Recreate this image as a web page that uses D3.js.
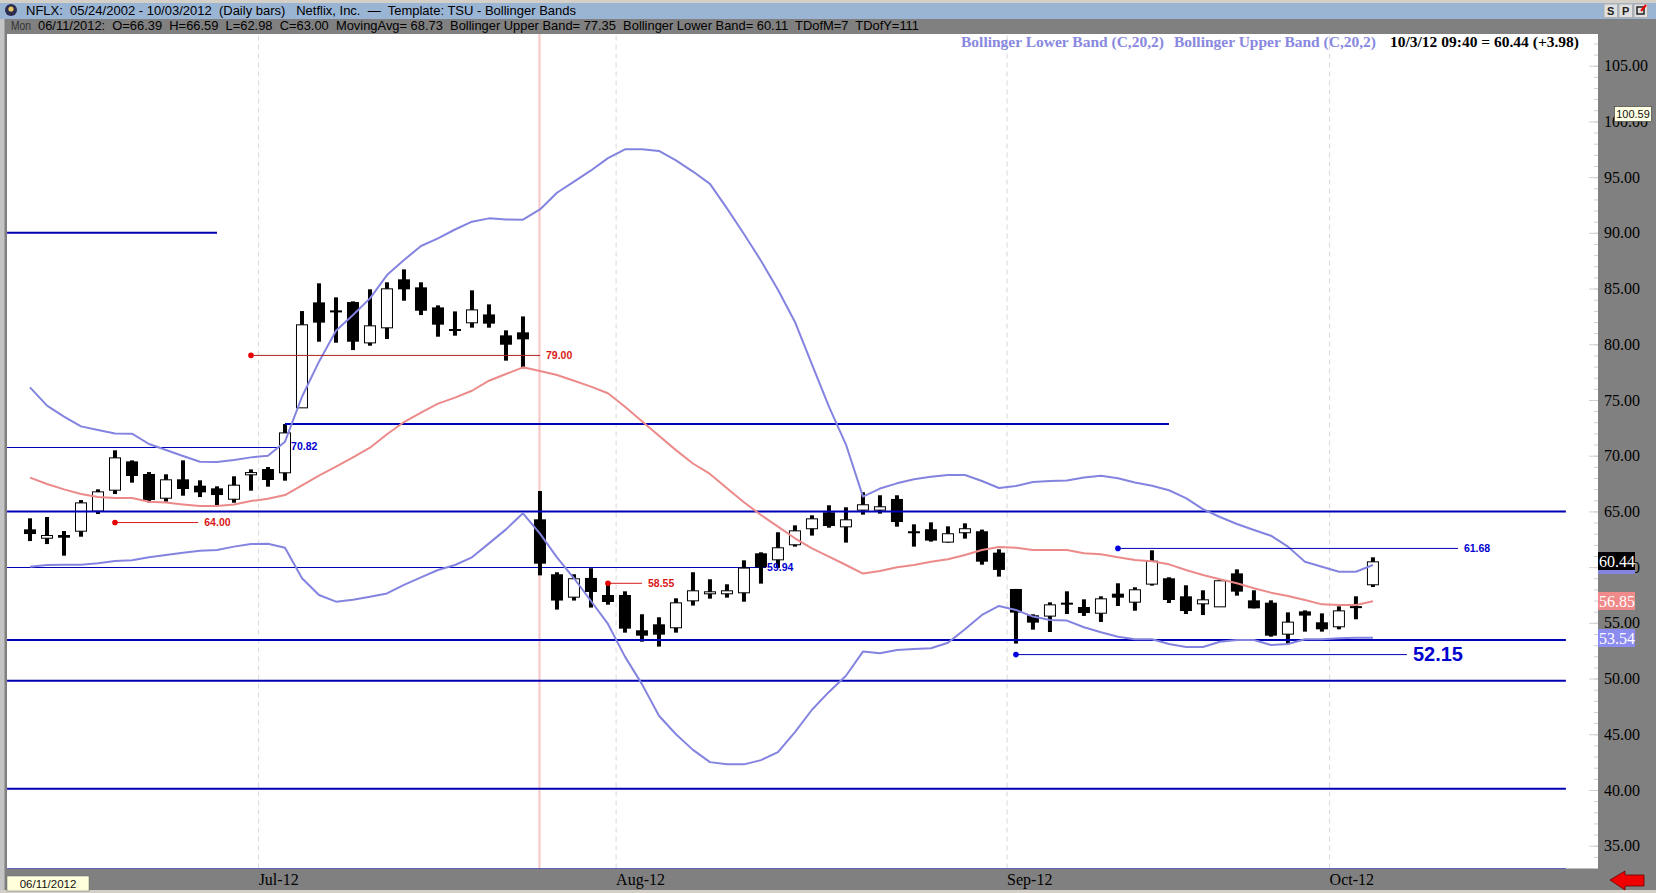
<!DOCTYPE html>
<html><head><meta charset="utf-8"><title>NFLX Bollinger Bands</title>
<script src="https://cdn.jsdelivr.net/npm/d3@7/dist/d3.min.js"></script>
<style>html,body{margin:0;padding:0;background:#808080;overflow:hidden}svg{display:block}</style>
</head><body><svg id="c" width="1656" height="893"></svg>
<script>
const opens=[63.39,62.64,62.88,63.27,65.07,66.95,69.49,68.36,66.23,67.88,67.31,67.07,66.14,68.33,68.80,68.51,74.34,83.76,83.04,83.79,80.17,81.52,85.83,85.11,83.31,81.37,81.97,82.68,80.80,81.07,64.29,59.36,57.35,59.03,57.5,57.5,54.33,54.87,54.6,57.02,57.65,57.65,57.74,61.24,60.7,62.05,63.49,64.92,63.66,65.16,65.16,66.12,63.22,63.4,62.29,63.13,63.22,61.3,58.04,55.68,55.65,56.81,56.42,55.91,57.62,56.9,58.52,59.0,57.38,56.75,56.48,59.44,57.02,56.81,54.03,56.03,55.05,54.69,56.5,58.46];
const closes=[62.97,62.88,62.64,65.81,66.80,69.85,68.18,66.02,67.88,67.01,66.71,66.47,67.40,68.53,67.82,72.09,81.79,81.94,83.04,80.23,81.70,85.02,84.93,83.01,81.76,81.19,83.13,81.85,79.96,80.44,60.31,57.0,59.0,57.77,56.87,54.48,53.85,53.94,56.84,57.92,57.83,57.92,59.96,59.99,61.78,63.3,64.38,63.69,64.29,65.64,65.46,64.05,63.07,62.38,63.04,63.49,60.49,59.75,55.92,55.02,56.66,56.63,55.88,57.2,57.26,58.01,60.58,57.05,56.06,57.11,58.82,57.8,56.3,53.85,55.11,55.65,54.42,56.12,56.45,60.52];
const highs=[64.38,64.50,63.24,66.02,66.98,70.48,69.58,68.53,68.33,69.58,67.79,67.25,68.15,68.77,68.98,72.84,82.98,85.47,84.21,83.85,84.93,85.56,86.72,85.56,83.49,82.95,84.84,83.58,81.25,82.50,66.83,59.54,59.36,59.9,58.58,57.83,55.77,55.5,57.2,59.54,58.91,58.46,60.61,61.33,63.13,63.75,64.65,65.55,65.37,66.72,66.45,66.45,63.84,64.02,63.66,63.93,63.37,61.6,58.04,55.77,56.84,57.83,57.11,57.38,58.55,58.19,61.51,59.09,58.37,57.92,58.82,59.8,57.92,57.02,55.94,56.12,55.85,56.48,57.38,60.88];
const lows=[62.34,62.07,61.03,62.73,64.77,66.56,67.58,65.81,65.87,66.41,66.29,65.51,65.78,66.86,67.22,67.76,74.34,80.23,80.14,79.48,79.87,80.47,83.91,82.62,80.68,80.77,81.49,81.49,78.53,77.84,59.26,56.19,57.0,56.37,56.63,54.12,53.31,52.87,54.12,56.55,57.17,57.26,56.9,58.52,59.93,61.84,62.83,63.54,62.2,64.71,64.8,63.63,61.84,62.29,62.2,62.56,60.22,59.15,53.14,54.39,54.18,55.79,55.62,55.08,56.51,56.09,58.34,56.78,55.79,55.7,56.48,57.44,56.3,53.76,53.13,54.21,54.21,54.42,55.32,58.22];
const upperBand=[76.13,74.49,73.5,72.63,72.3,72.0,71.98,71.05,70.51,69.97,69.46,69.43,69.61,69.85,70.0,71.26,75.29,78.44,81.22,82.62,84.12,86.21,87.56,88.82,89.5,90.3,91.0,91.3,91.2,91.18,92.1,93.6,94.6,95.6,96.7,97.5,97.5,97.35,96.5,95.5,94.4,92.2,89.9,87.5,84.9,82.0,78.2,74.4,71.0,66.33,67.05,67.52,67.88,68.12,68.27,68.27,67.73,67.1,67.28,67.64,67.73,67.78,68.05,68.2,67.98,67.6,67.3,66.9,66.2,65.2,64.5,63.87,63.33,62.82,61.84,60.49,60.04,59.59,59.59,60.19];
const movingAvg=[68.03,67.46,66.98,66.56,66.29,66.2,66.2,65.87,65.81,65.63,65.48,65.48,65.63,65.93,66.14,66.47,67.34,68.21,69.01,69.85,70.72,71.92,73.02,73.86,74.67,75.21,75.83,76.73,77.33,77.93,77.6,77.24,76.73,76.2,75.6,74.4,73.1,71.8,70.5,69.3,68.36,67.07,65.82,64.68,63.63,62.59,61.69,60.94,60.19,59.42,59.66,59.99,60.2,60.49,60.7,61.09,61.54,61.81,61.75,61.54,61.54,61.54,61.24,61.15,60.88,60.64,60.52,60.25,59.74,59.29,58.91,58.55,58.1,57.71,57.41,57.05,56.66,56.6,56.6,56.93];
const lowerBand=[60.04,60.19,60.22,60.22,60.34,60.55,60.61,60.88,61.09,61.3,61.48,61.54,61.84,62.07,62.1,61.74,59.0,57.5,56.9,57.07,57.35,57.64,58.4,59.08,59.74,60.19,60.88,62.13,63.39,64.83,63.0,60.88,59.0,56.96,54.9,51.97,49.5,46.66,45.0,43.6,42.5,42.3,42.3,42.68,43.4,45.2,47.2,48.8,50.25,52.42,52.27,52.57,52.66,52.72,53.22,54.42,55.71,56.52,56.16,55.56,55.26,55.2,54.6,54.15,53.76,53.52,53.52,53.1,52.83,52.83,53.31,53.46,53.46,53.01,53.1,53.52,53.52,53.61,53.67,53.67];

const supportPrices=[90,72.85,65,53.46,49.8,40.1];
const supportStarts=[-1.35,15,-1.35,-1.35,-1.35,-1.35];
const supportEnds=[11,67,90.35,90.35,90.35,90.35];
const thinPrices=[70.82,59.97,33];
const thinStarts=[-1.35,-1.35,-1.35];
const thinEnds=[15,43.3,90.35];
const noteValues=[79.00,64.00,58.55,61.68,52.15];
const noteStarts=[13,5,34,64,58];
const noteEnds=[30,9.9,36,84,81];
const plainLabelValues=[70.82,59.94];
const plainLabelIdx=[15.3,43.3];
const monthLabels=["Jul-12","Aug-12","Sep-12","Oct-12"];
const monthPos=[13.42,34.45,57.45,76.42];
const priceTicks=[35,40,45,50,55,60,65,70,75,80,85,90,95,100,105];
const minorTicks=d3.range(33,108);
const tagValues=[60.44,56.85,53.54];
const tagColors=["#000000","#f08a8a","#8c8cf0"];
const eventIdx=30.0;

const W=1656,H=893,plot={l:7,r:1598,t:34,b:868.5};
const BAND="#8484e0",MA="#ec8a8a",BLUE="#0000b4",RED="#d81818";
const svg=d3.select("#c");
const x=d3.scaleLinear().domain([-1.353,92.24]).range([plot.l,plot.r]);
const y=d3.scaleLinear().domain([105,35]).range([65.7,845.7]);

// chrome
svg.append("rect").attr("width",W).attr("height",H).attr("fill","#808080");
svg.append("rect").attr("width",W).attr("height",3).attr("fill","#d4d0c8");
svg.append("rect").attr("y",3).attr("width",W).attr("height",16).attr("fill","#9ab4d4");
svg.append("rect").attr("x",0).attr("y",19).attr("width",4.5).attr("height",H-19).attr("fill","#c4c4c4");
svg.append("rect").attr("x",plot.l).attr("y",plot.t).attr("width",plot.r-plot.l).attr("height",plot.b-plot.t).attr("fill","#fff");
svg.append("rect").attr("y",890).attr("width",W).attr("height",3).attr("fill","#d4d0c8");
// header
const sans="'Liberation Sans',Arial,sans-serif",serif="'Liberation Serif','Times New Roman',serif";
svg.append("circle").attr("cx",11).attr("cy",10).attr("r",6).attr("fill","#2c2c50");
svg.append("circle").attr("cx",11).attr("cy",9).attr("r",2.6).attr("fill","#e8c860");
function txt(t,xp,yp,o={}){const s=svg.append("text").attr("x",xp).attr("y",yp).text(t)
 .attr("font-family",o.f||sans).attr("font-size",o.s||12).attr("fill",o.c||"#000").attr("font-weight",o.w||"normal")
 .attr("text-anchor",o.a||"start").attr("xml:space","preserve").style("white-space","pre");
 if(o.len)s.attr("textLength",o.len).attr("lengthAdjust","spacingAndGlyphs");return s;}
txt("NFLX:  05/24/2002 - 10/03/2012  (Daily bars)   Netflix, Inc.  \u2014  Template: TSU - Bollinger Bands",26,14.5,{s:13,c:"#000",len:550});
txt("Mon",11,30,{s:12.5,c:"#333",len:20});
txt("06/11/2012:  O=66.39  H=66.59  L=62.98  C=63.00  MovingAvg= 68.73  Bollinger Upper Band= 77.35  Bollinger Lower Band= 60.11  TDofM=7  TDofY=111",38,30,{s:13,c:"#000",len:881});
[["S",1604],["P",1619],["",1634]].forEach(([t,bx])=>{
 svg.append("rect").attr("x",bx).attr("y",4).attr("width",13.5).attr("height",13.5).attr("fill","#e0e0e0").attr("stroke","#b0b0b0");
 if(t)txt(t,bx+6.75,15,{s:11,a:"middle",w:"bold",c:"#222"});
 else{svg.append("rect").attr("x",bx+3).attr("y",7).attr("width",7).attr("height",7).attr("fill","none").attr("stroke","#222").attr("stroke-width",1.5);
  svg.append("path").attr("d",`M${bx+7} ${11}L${bx+12} ${5}`).attr("stroke","#e00").attr("stroke-width",2);}
});

// month grid and labels, via axis
const clipId="plotclip";
svg.append("defs").append("clipPath").attr("id",clipId).append("rect").attr("x",plot.l).attr("y",plot.t).attr("width",plot.r-plot.l).attr("height",plot.b-plot.t);
const gx=svg.append("g").attr("transform",`translate(0,${plot.b})`).call(d3.axisBottom(x).tickValues(monthPos).tickSize(0).tickFormat((d,i)=>monthLabels[i]));
gx.select(".domain").remove();
gx.selectAll("text").attr("text-anchor","start").attr("dy",0).attr("y",16).attr("font-family",serif).attr("font-size",16).attr("fill","#000");
gx.selectAll(".tick").append("line").attr("y1",0).attr("y2",plot.t-plot.b).attr("stroke","#d8d8d8").attr("stroke-dasharray","5,4");

// right axis ticks
const plotG=svg.append("g").attr("clip-path",`url(#${clipId})`);
const tickA=plotG.append("g").attr("transform",`translate(${plot.r},0)`).call(d3.axisLeft(y).tickValues(minorTicks).tickSize(4).tickFormat(""));
tickA.select(".domain").remove();tickA.selectAll("line").attr("stroke","#d0d0d0");
const tickB=plotG.append("g").attr("transform",`translate(${plot.r},0)`).call(d3.axisLeft(y).tickValues(priceTicks).tickSize(9).tickFormat(""));
tickB.select(".domain").remove();tickB.selectAll("line").attr("stroke","#d0d0d0");
const lab=svg.append("g").attr("transform",`translate(${plot.r},0)`).call(d3.axisRight(y).tickValues(priceTicks).tickSize(0).tickPadding(6).tickFormat(d3.format(".2f")));
lab.select(".domain").remove();
lab.selectAll("text").attr("font-family",serif).attr("font-size",16).attr("fill","#000");

// event line
plotG.append("line").attr("x1",x(eventIdx)-.5).attr("x2",x(eventIdx)-.5).attr("y1",plot.t).attr("y2",plot.b).attr("stroke","#f8c4c4").attr("stroke-width",2);

// thin lines
thinPrices.forEach((p,i)=>{
 plotG.append("line").attr("x1",x(thinStarts[i])).attr("x2",x(thinEnds[i])).attr("y1",Math.round(y(p))+.5).attr("y2",Math.round(y(p))+.5).attr("stroke",BLUE).attr("stroke-width",1);});

// candles
const g=plotG.append("g");
const data=opens.map((o,i)=>({i,o,c:closes[i],h:highs[i],l:lows[i]}));
const c=g.selectAll("g").data(data).join("g");
c.append("rect").attr("x",d=>x(d.i)-2).attr("width",4).attr("y",d=>y(d.h)).attr("height",d=>y(d.l)-y(d.h)).attr("fill","#000");
c.append("rect").attr("x",d=>d.c>d.o?x(d.i)-5.5:x(d.i)-6).attr("width",d=>d.c>d.o?11:12)
 .attr("y",d=>y(Math.max(d.o,d.c))+(d.c>d.o?.5:0)).attr("height",d=>Math.max(2,Math.abs(y(d.o)-y(d.c))))
 .attr("fill",d=>d.c>d.o?"#fff":"#000").attr("stroke",d=>d.c>d.o?"#000":"none").attr("stroke-width",1);

// support lines over candles
supportPrices.forEach((p,i)=>{plotG.append("line").attr("x1",x(supportStarts[i])).attr("x2",x(supportEnds[i])).attr("y1",y(p)).attr("y2",y(p)).attr("stroke",BLUE).attr("stroke-width",2);});

// bands
const line=d3.line().x((d,i)=>x(i)).y(d=>y(d));
[[upperBand,BAND],[lowerBand,BAND],[movingAvg,MA]].forEach(([a,col])=>{
 plotG.append("path").attr("d",line(a)).attr("fill","none").attr("stroke",col).attr("stroke-width",2).attr("stroke-linejoin","round");});

// notes
noteValues.forEach((v,i)=>{const col=i<3?RED:"#0000d0",ln=i<3?(i==0?"#b02020":RED):BLUE,big=i==4;
 const yy=y(v);
 plotG.append("line").attr("x1",x(noteStarts[i])).attr("x2",x(noteEnds[i])).attr("y1",yy).attr("y2",yy).attr("stroke",ln).attr("stroke-width",1);
 plotG.append("circle").attr("cx",x(noteStarts[i])).attr("cy",yy).attr("r",2.8).attr("fill",i<3?"#e80000":"#0000e0");
 txt(d3.format(".2f")(v),x(noteEnds[i])+6,yy+(big?6:3.5),{s:big?20:10.5,w:"bold",c:col});
});
plainLabelValues.forEach((v,i)=>txt(d3.format(".2f")(v),x(plainLabelIdx[i])+1,y(v)+3.5,{s:10.5,w:"bold",c:"#0000d0"}));

// legend
txt("Bollinger Lower Band (C,20,2)",961,47,{f:serif,s:15,w:"bold",c:"#8888e0",len:203});
txt("Bollinger Upper Band (C,20,2)",1174,47,{f:serif,s:15,w:"bold",c:"#8888e0",len:202});
txt("10/3/12 09:40 = 60.44 (+3.98)",1390,47,{f:serif,s:15,w:"bold",c:"#000",len:189});

// value tags
tagValues.forEach((v,i)=>{
 const yc=i==0?561:i==1?601:638;
 svg.append("rect").attr("x",plot.r).attr("y",yc-9).attr("width",37).attr("height",18).attr("fill",tagColors[i]);
 txt(d3.format(".2f")(v),plot.r+1,yc+5.5,{f:serif,s:16,c:"#fff"});
});
svg.append("rect").attr("x",plot.r).attr("y",570).attr("width",37).attr("height",4).attr("fill",BAND);

// 100.59 tooltip
svg.append("rect").attr("x",1614.5).attr("y",106.5).attr("width",37).attr("height",15).attr("fill","#ffffe4").attr("stroke","#333").attr("stroke-width",.6);
txt("100.59",1633,118,{s:11,a:"middle",c:"#111"});
// date box
svg.append("rect").attr("x",7).attr("y",876).attr("width",82).attr("height",15).attr("fill","#ffffdc").attr("stroke","#666").attr("stroke-width",.5);
txt("06/11/2012",48,888,{s:11.5,a:"middle",c:"#111"});
// arrow
svg.append("path").attr("d","M1610 880L1625 871V875H1644V886H1625V890Z").attr("fill","#f00000").attr("stroke","#600").attr("stroke-width",.8);
</script></body></html>
